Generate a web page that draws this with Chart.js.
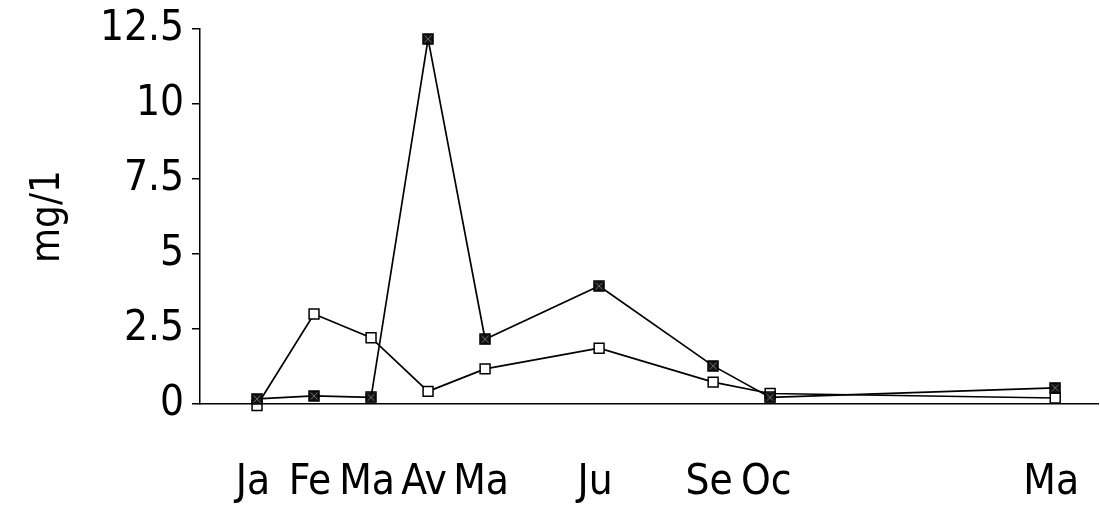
<!DOCTYPE html>
<html>
<head>
<meta charset="utf-8">
<script src="https://cdn.jsdelivr.net/npm/chart.js@4.4.1/dist/chart.umd.min.js"></script>
<style>
  html, body { margin: 0; padding: 0; background: #fff; }
  #wrap { width: 1100px; height: 511px; }
</style>
</head>
<body>
<div id="wrap"><canvas id="c" width="1100" height="511"></canvas></div>
<script>
// ---- data ----
const monthIndex  = [0, 1, 2, 3, 4, 6, 8, 9, 14];
const monthLabels = ['Ja', 'Fe', 'Ma', 'Av', 'Ma', 'Ju', 'Se', 'Oc', 'Ma'];
const seriesCrossed = [0.17, 0.27, 0.22, 12.17, 2.16, 3.93, 1.27, 0.22, 0.54];
const seriesOpen    = [-0.05, 3.0, 2.21, 0.42, 1.17, 1.86, 0.73, 0.35, 0.20];
const yTickValues = [0, 2.5, 5, 7.5, 10, 12.5];
const yTitle = 'mg/1';

const FONT = '"Liberation Sans Narrow", "DejaVu Sans Condensed", sans-serif';

function crossedMarker() {
  const s = 12;
  const cv = document.createElement('canvas');
  cv.width = s; cv.height = s;
  const g = cv.getContext('2d');
  g.fillStyle = '#151515';
  g.fillRect(1, 1, s - 2, s - 2);
  g.strokeStyle = '#000';
  g.lineWidth = 1.5;
  g.strokeRect(1, 1, s - 2, s - 2);
  g.strokeStyle = '#6a6a6a';
  g.lineWidth = 1;
  g.beginPath();
  g.moveTo(2.5, 2.5); g.lineTo(s - 2.5, s - 2.5);
  g.moveTo(s - 2.5, 2.5); g.lineTo(2.5, s - 2.5);
  g.stroke();
  return cv;
}

const toPoints = (vals) => vals.map((v, i) => ({ x: monthIndex[i], y: v }));

new Chart(document.getElementById('c'), {
  type: 'line',
  data: {
    datasets: [
      {
        data: toPoints(seriesCrossed),
        borderColor: '#000',
        borderWidth: 1.7,
        pointStyle: crossedMarker(),
        pointRadius: 6,
        tension: 0,
        clip: false
      },
      {
        data: toPoints(seriesOpen),
        borderColor: '#000',
        borderWidth: 1.7,
        pointStyle: 'rect',
        pointRadius: 7,
        pointBorderWidth: 1.5,
        pointBorderColor: '#000',
        pointBackgroundColor: '#fff',
        tension: 0,
        clip: false
      }
    ]
  },
  options: {
    responsive: false,
    animation: false,
    devicePixelRatio: 1,
    layout: { autoPadding: false, padding: { top: 29, right: 2, bottom: 0, left: 0 } },
    plugins: { legend: { display: false }, tooltip: { enabled: false } },
    scales: {
      x: {
        type: 'linear',
        min: -1,
        max: 14.75,
        afterBuildTicks: (scale) => { scale.ticks = monthIndex.map(v => ({ value: v })); },
        afterFit: (scale) => { scale.height = 107; },
        ticks: {
          autoSkip: false,
          maxRotation: 0,
          padding: 0,
          labelOffset: -4,
          color: '#000',
          font: { family: FONT, size: 42, lineHeight: 1 },
          callback: (v) => { const i = monthIndex.indexOf(v); return i >= 0 ? monthLabels[i] : ''; }
        },
        grid: { display: true, drawOnChartArea: false, drawTicks: true, tickLength: 58, color: 'rgba(0,0,0,0)' },
        border: { display: true, color: '#000', width: 1.5 }
      },
      y: {
        min: 0,
        max: 12.5,
        afterBuildTicks: (scale) => { scale.ticks = yTickValues.map(v => ({ value: v })); },
        afterFit: (scale) => { scale.width = 200; },
        ticks: {
          padding: 8,
          color: '#000',
          font: { family: FONT, size: 42, lineHeight: 1 },
          callback: (v) => String(v)
        },
        grid: { display: true, drawOnChartArea: false, drawTicks: true, tickLength: 8, color: '#000', lineWidth: 1.5 },
        border: { display: true, color: '#000', width: 1.5 },
        title: {
          display: true,
          text: yTitle,
          color: '#000',
          font: { family: FONT, size: 40 },
          padding: { top: 25, bottom: 0 }
        }
      }
    }
  }
});
</script>
</body>
</html>
